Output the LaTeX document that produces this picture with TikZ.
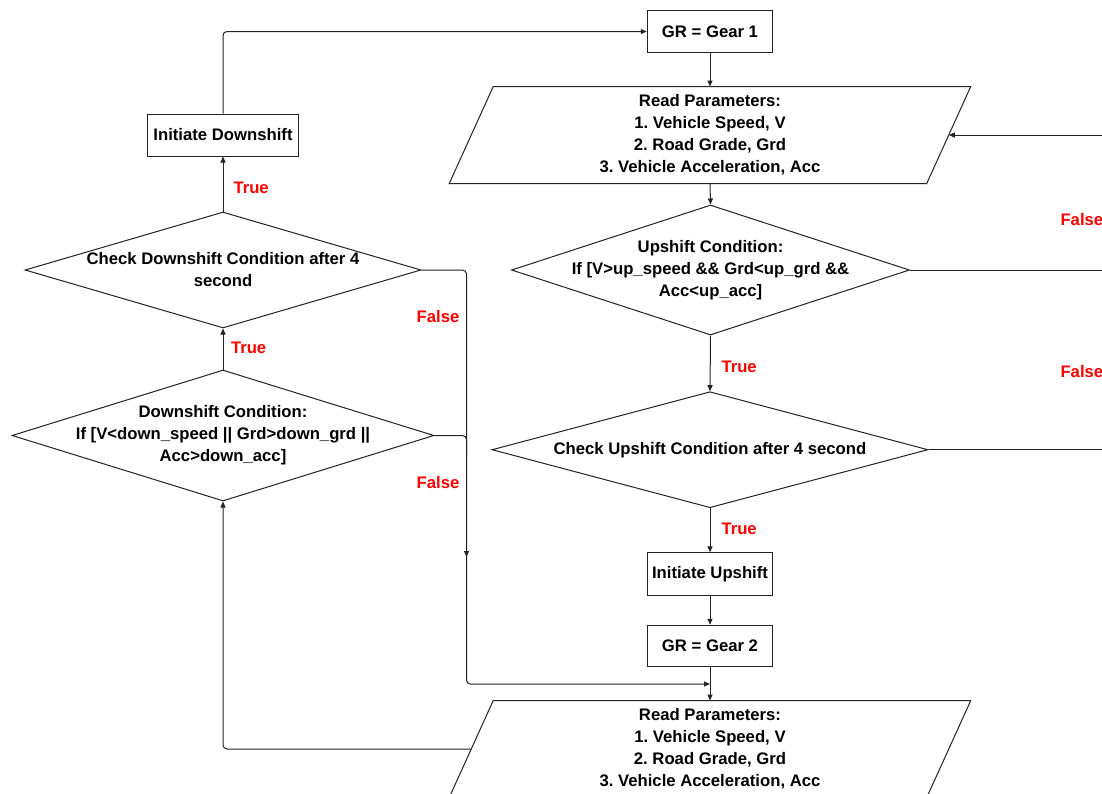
\documentclass[tikz,border=0pt]{standalone}
\usepackage{fontspec}
\setmainfont{Liberation Sans}
\usetikzlibrary{arrows.meta,shapes.geometric}
\definecolor{lc}{RGB}{35,35,35}
\frenchspacing
\begin{document}
\begin{tikzpicture}[x=1pt,y=-1pt,
  line width=1pt,
  txt/.style={font=\fontsize{16.7}{22}\selectfont\bfseries, align=center, inner sep=0pt, text=black},
  lab/.style={font=\fontsize{16.7}{20}\selectfont\bfseries, text=red, inner sep=0pt},
  proc/.style={draw=lc, rectangle, minimum width=125.5pt, minimum height=41.5pt, inner sep=0pt, font=\fontsize{16.7}{22}\selectfont\bfseries},
  dia/.style={draw=lc, diamond, inner sep=0pt},
  io/.style={rectangle, minimum width=476.5pt, minimum height=96pt, inner sep=0pt},
  para/.style={draw=lc},
  arr/.style={draw=lc, -{Triangle[length=6pt,width=5pt]}},
  ln/.style={draw=lc},
  conn/.style={rounded corners=4pt}
]
\clip (0,0) rectangle (1102,793);
\useasboundingbox (0,0) rectangle (1102,793);
\fill[white] (0,0) rectangle (1102,793);

% right column
\node[proc] (gr1) at (710,31.5) {GR = Gear 1};
\node[io] (rp1) at (710,135) {};
\draw[para] ([xshift=22pt]rp1.north west) -- ([xshift=22pt]rp1.north east) -- ([xshift=-22pt]rp1.south east) -- ([xshift=-22pt]rp1.south west) -- cycle;
\node[txt] at (rp1) {Read Parameters:\\1. Vehicle Speed, V\\2. Road Grade, Grd\\3. Vehicle Acceleration, Acc};

\node[dia, minimum width=398pt, minimum height=130pt] (up) at (710.5,270) {};
\node[txt] at (up) {Upshift Condition:\\If [V>up\_speed \&\& Grd<up\_grd \&\&\\Acc<up\_acc]};

\node[dia, minimum width=436pt, minimum height=116pt] (cu) at (710,449.7) {};
\node[txt] at (cu) {Check Upshift Condition after 4 second};

\node[proc, minimum height=42.3pt] (iu) at (710,574) {Initiate Upshift};
\node[proc] (gr2) at (710,646) {GR = Gear 2};

\node[io] (rp2) at (710,749) {};
\draw[para] ([xshift=22pt]rp2.north west) -- ([xshift=22pt]rp2.north east) -- ([xshift=-22pt]rp2.south east) -- ([xshift=-22pt]rp2.south west) -- cycle;
\node[txt] at (rp2) {Read Parameters:\\1. Vehicle Speed, V\\2. Road Grade, Grd\\3. Vehicle Acceleration, Acc};

% left column
\node[proc, minimum width=150.5pt, minimum height=42pt] (id) at (223,135) {Initiate Downshift};
\node[dia, minimum width=396pt, minimum height=116pt] (cd) at (223,270) {};
\node[txt] at (cd) {Check Downshift Condition after 4\\second};
\node[dia, minimum width=422pt, minimum height=131pt] (dc) at (223,435.5) {};
\node[txt] at (dc) {Downshift Condition:\\If [V<down\_speed || Grd>down\_grd ||\\Acc>down\_acc]};

% coordinates
\coordinate (fx) at (466.5,270);
\coordinate (mg) at (466.5,684);
\coordinate (fa1) at (466.5,540);
\coordinate (fa2) at (466.5,557);
\coordinate (e1) at (1102,135);
\coordinate (e2) at (1102,270);
\coordinate (e3) at (1102,449.7);

% connectors
\draw[arr] (gr1.south) -- (rp1.north);
\draw[arr] (rp1.south) -- (up.north);
\draw[arr] (up.south) -- (cu.north);
\draw[arr] (cu.south) -- (iu.north);
\draw[arr] (iu.south) -- (gr2.north);
\draw[arr] (gr2.south) -- (rp2.north);
\draw[arr] (dc.north) -- (cd.south);
\draw[arr] (cd.north) -- (id.south);
\draw[arr, conn] (id.north) |- (gr1.west);
\draw[arr, conn] (rp2.west) -| (dc.south);
\draw[arr, conn] (cd.east) -- (cd.east -| fx) -- (mg) -- (mg -| gr2.south);
\draw[ln, conn] (dc.east) -- (dc.east -| fx) -- ([yshift=-20pt]dc.east -| fx);
\draw[arr] (fa1) -- (fa2);
\draw[arr] (e1) -- (rp1.east);
\draw[ln] (up.east) -- (e2);
\draw[ln] (cu.east) -- (e3);

% labels
\node[lab, anchor=west] at (1060,220) {False};
\node[lab, anchor=west] at (1060,372) {False};
\node[lab] at (438,317) {False};
\node[lab] at (438,483) {False};
\node[lab, anchor=west] at (233,188) {True};
\node[lab, anchor=west] at (230.5,348) {True};
\node[lab, anchor=west] at (721,367) {True};
\node[lab, anchor=west] at (721,529) {True};
\end{tikzpicture}
\end{document}
